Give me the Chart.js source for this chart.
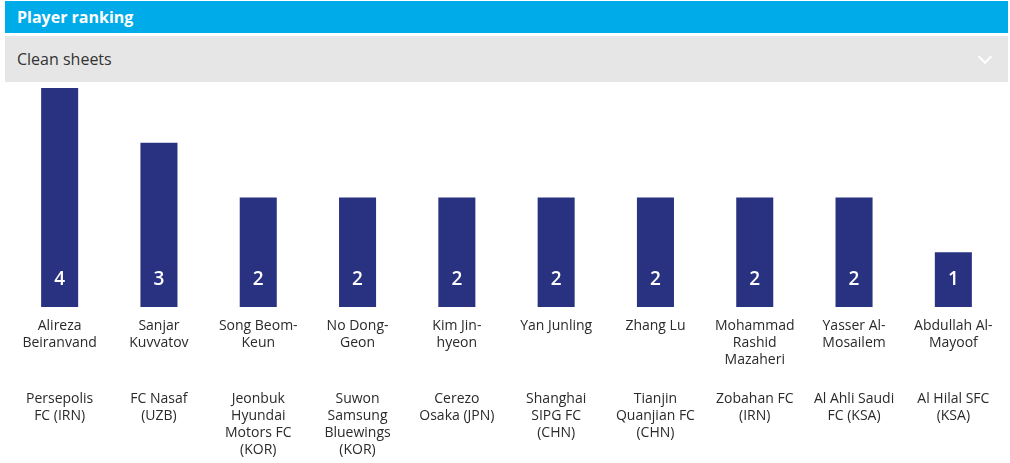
<!DOCTYPE html>
<html>
<head>
<meta charset="utf-8">
<script src="https://cdn.jsdelivr.net/npm/chart.js@4"></script>
<style>
	body { margin: 0; background: #fff; font-family: "Open Sans", sans-serif; }
	#head { position: absolute; left: 5px; top: 1px; width: 1003px; height: 32px; background: #00abe9; color: #fff; font-weight: bold; font-size: 16px; line-height: 33px; box-sizing: border-box; padding-left: 12px; }
	#sub { position: absolute; left: 5px; top: 36px; width: 1003px; height: 46px; background: #e6e6e6; color: #333; font-size: 16px; line-height: 46px; box-sizing: border-box; padding-left: 12px; }
	#chev { position: absolute; right: 18px; top: 16px; width: 8px; height: 8px; border-right: 2px solid #fff; border-bottom: 2px solid #fff; transform: rotate(45deg); }
	#wrap { position: absolute; left: 0; top: 82px; width: 1010px; height: 381px; }
</style>
</head>
<body>
<div id="head">Player ranking</div>
<div id="sub">Clean sheets<div id="chev"></div></div>
<div id="wrap"><canvas id="c"></canvas></div>
<script>
// player names, already split into lines as shown
var players = [
	['Alireza', 'Beiranvand'],
	['Sanjar', 'Kuvvatov'],
	['Song Beom-', 'Keun'],
	['No Dong-', 'Geon'],
	['Kim Jin-', 'hyeon'],
	['Yan Junling'],
	['Zhang Lu'],
	['Mohammad', 'Rashid', 'Mazaheri'],
	['Yasser Al-', 'Mosailem'],
	['Abdullah Al-', 'Mayoof']
];
var clubs = [
	['Persepolis', 'FC (IRN)'],
	['FC Nasaf', '(UZB)'],
	['Jeonbuk', 'Hyundai', 'Motors FC', '(KOR)'],
	['Suwon', 'Samsung', 'Bluewings', '(KOR)'],
	['Cerezo', 'Osaka (JPN)'],
	['Shanghai', 'SIPG FC', '(CHN)'],
	['Tianjin', 'Quanjian FC', '(CHN)'],
	['Zobahan FC', '(IRN)'],
	['Al Ahli Saudi', 'FC (KSA)'],
	['Al Hilal SFC', '(KSA)']
];
var cleanSheets = [4, 3, 2, 2, 2, 2, 2, 2, 2, 1];

// labels: values inside bars, names and clubs under them
var labelPlugin = {
	id: 'labels',
	afterDatasetsDraw: function(chart) {
		var ctx = chart.ctx;
		var x = chart.scales.x, y = chart.scales.y;
		var base = y.getPixelForValue(0);
		ctx.save();
		ctx.textAlign = 'center';
		ctx.textBaseline = 'middle';
		for (var i = 0; i < cleanSheets.length; i++) {
			var cx = x.getPixelForValue(i);
			ctx.fillStyle = '#fff';
			ctx.font = '600 19px "Open Sans", sans-serif';
			ctx.fillText(cleanSheets[i], cx, base - 27);
			ctx.fillStyle = '#2a2a2a';
			ctx.font = '14px "Open Sans", sans-serif';
			for (var j = 0; j < players[i].length; j++) {
				ctx.fillText(players[i][j], cx, base + 19 + j * 17);
			}
			for (var k = 0; k < clubs[i].length; k++) {
				ctx.fillText(clubs[i][k], cx, base + 92 + k * 17);
			}
		}
		ctx.restore();
	}
};

new Chart(document.getElementById('c'), {
	type: 'bar',
	data: {
		labels: players.map(function(p) { return p.join(' '); }),
		datasets: [{
			data: cleanSheets,
			backgroundColor: '#283280',
			barPercentage: 0.373,
			categoryPercentage: 1
		}]
	},
	options: {
		responsive: true,
		maintainAspectRatio: false,
		animation: false,
		layout: { padding: { left: 10, right: 7, top: 6, bottom: 156 } },
		plugins: { legend: { display: false }, tooltip: { enabled: false } },
		scales: {
			x: { display: false },
			y: { display: false, min: 0, max: 4 }
		}
	},
	plugins: [labelPlugin]
});
</script>
</body>
</html>
